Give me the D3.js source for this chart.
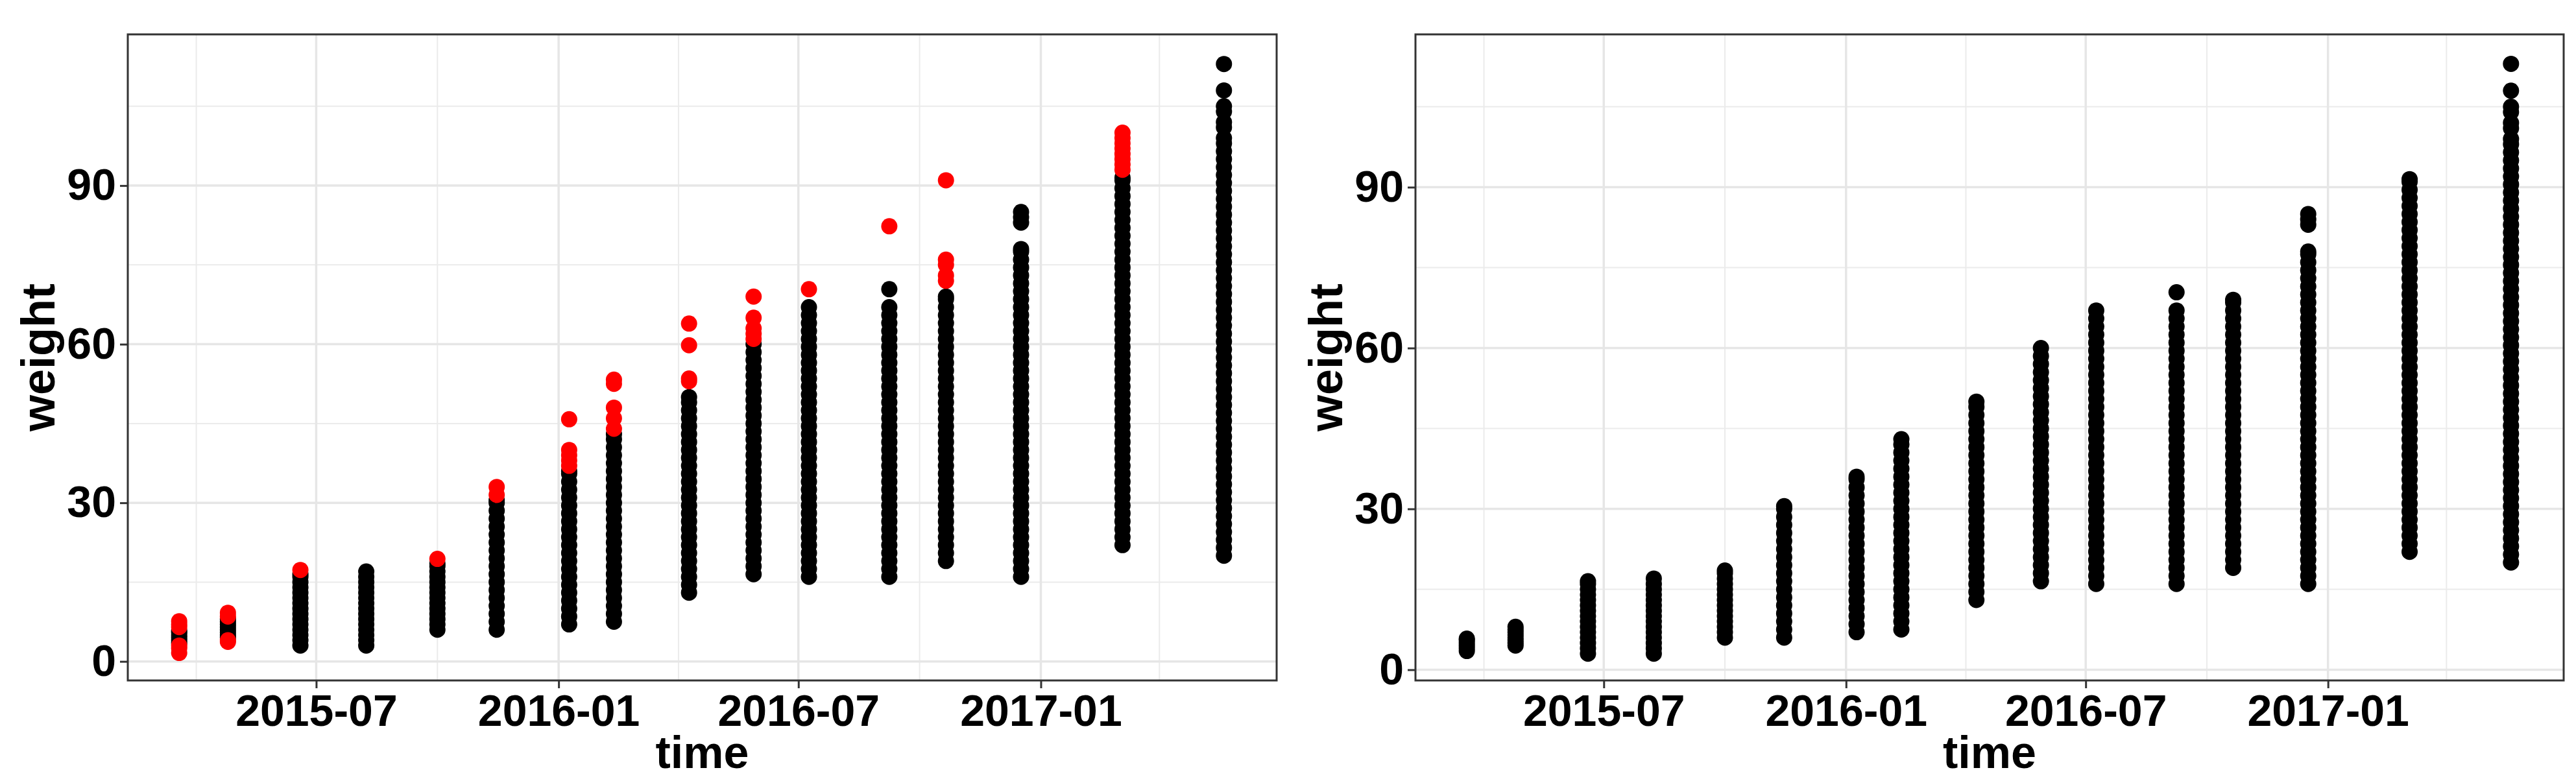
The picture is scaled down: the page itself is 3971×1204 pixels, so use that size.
<!DOCTYPE html>
<html><head><meta charset="utf-8">
<script src="https://cdn.jsdelivr.net/npm/d3@7"></script>
<style>body{margin:0;background:#fff}</style>
</head><body>
<svg id="c" width="3971" height="1204"></svg>
<script>
const dates = ["2015-03-19","2015-04-25","2015-06-19","2015-08-08","2015-10-01","2015-11-15","2016-01-09","2016-02-12","2016-04-09","2016-05-28","2016-07-09","2016-09-08","2016-10-21","2016-12-17","2017-03-04","2017-05-20"];
const blackVals = [
 [3.5,4,4.5,5,5.5,5.8],
 [4.5,5,5.5,6,6.5,7,7.5,8],
 [3,4,5,6,7,8,9,10,11,12,13,14,15,16,16.5],
 [3,4,5,6,7,8,9,10,11,12,13,14,15,16,17],
 [6,7,8,9,10,11,12,13,14,15,16,17,18,18.5],
 [6,7.5,9,10.5,12,13.5,15,16.5,18,19.5,21,22.5,24,25.5,27,28.5,30,30.5],
 [7,8.5,10,11.5,13,14.5,16,17.5,19,20.5,22,23.5,25,26.5,28,29.5,31,32.5,34,35.5,36],
 [7.5,9,10.5,12,13.5,15,16.5,18,19.5,21,22.5,24,25.5,27,28.5,30,31.5,33,34.5,36,37.5,39,40.5,42,43],
 [13,14.5,16,17.5,19,20.5,22,23.5,25,26.5,28,29.5,31,32.5,34,35.5,37,38.5,40,41.5,43,44.5,46,47.5,49,50],
 [16.5,18,19.5,21,22.5,24,25.5,27,28.5,30,31.5,33,34.5,36,37.5,39,40.5,42,43.5,45,46.5,48,49.5,51,52.5,54,55.5,57,58.5,60],
 [16,17.5,19,20.5,22,23.5,25,26.5,28,29.5,31,32.5,34,35.5,37,38.5,40,41.5,43,44.5,46,47.5,49,50.5,52,53.5,55,56.5,58,59.5,61,62.5,64,65.5,67],
 [16,17.5,19,20.5,22,23.5,25,26.5,28,29.5,31,32.5,34,35.5,37,38.5,40,41.5,43,44.5,46,47.5,49,50.5,52,53.5,55,56.5,58,59.5,61,62.5,64,65.5,67,70.4],
 [19,20.5,22,23.5,25,26.5,28,29.5,31,32.5,34,35.5,37,38.5,40,41.5,43,44.5,46,47.5,49,50.5,52,53.5,55,56.5,58,59.5,61,62.5,64,65.5,67,68.5,69],
 [16,17.5,19,20.5,22,23.5,25,26.5,28,29.5,31,32.5,34,35.5,37,38.5,40,41.5,43,44.5,46,47.5,49,50.5,52,53.5,55,56.5,58,59.5,61,62.5,64,65.5,67,68.5,70,71.5,73,74.5,76,77.5,78,83,84,85],
 [22,23.5,25,26.5,28,29.5,31,32.5,34,35.5,37,38.5,40,41.5,43,44.5,46,47.5,49,50.5,52,53.5,55,56.5,58,59.5,61,62.5,64,65.5,67,68.5,70,71.5,73,74.5,76,77.5,79,80.5,82,83.5,85,86.5,88,89.5,91,91.5],
 [20,21.5,23,24.5,26,27.5,29,30.5,32,33.5,35,36.5,38,39.5,41,42.5,44,45.5,47,48.5,50,51.5,53,54.5,56,57.5,59,60.5,62,63.5,65,66.5,68,69.5,71,72.5,74,75.5,77,78.5,80,81.5,83,84.5,86,87.5,89,90.5,92,93.5,95,96.5,98,99,101,102,104,105,108,113]
];
const redVals = [
 [1.6,2.5,3,6.5,7,7.6],
 [3.7,4,8.5,9.2],
 [17.3],
 [],
 [19.4],
 [31.5,33],
 [37,38,39,40,45.8],
 [44,46,48,52.5,53.3],
 [53,53.5,59.8,63.9],
 [61,62,63,65,69],
 [70.4],
 [82.3],
 [72,73,75,76,91],
 [],
 [93,94,95,96,97,98,99,100],
 []
];
const yTicks = [0,30,60,90];
const yMinor = [15,45,75,105];
const xTicks = ["2015-07-01","2016-01-01","2016-07-01","2017-01-01"];
const xMinor = ["2015-04-01","2015-10-01","2016-04-01","2016-10-01","2017-04-01"];

const parse = d3.timeParse("%Y-%m-%d");
const svg = d3.select("#c");
const FONT = "'Liberation Sans', Arial, sans-serif";

function panel(left, right, yDom, withRed){
  const top = 53, bottom = 1049;
  const x = d3.scaleTime().domain([parse("2015-02-08"), parse("2017-06-29")]).range([left, right]);
  const y = d3.scaleLinear().domain(yDom).range([bottom, top]);
  const g = svg.append("g");
  g.selectAll(".ym").data(yMinor).join("line").attr("x1",left).attr("x2",right)
    .attr("y1",d=>y(d)).attr("y2",d=>y(d)).attr("stroke","#ebebeb").attr("stroke-width",2);
  g.selectAll(".xm").data(xMinor).join("line").attr("y1",top).attr("y2",bottom)
    .attr("x1",d=>x(parse(d))).attr("x2",d=>x(parse(d))).attr("stroke","#ebebeb").attr("stroke-width",2);
  g.selectAll(".yM").data(yTicks).join("line").attr("x1",left).attr("x2",right)
    .attr("y1",d=>y(d)).attr("y2",d=>y(d)).attr("stroke","#e6e6e6").attr("stroke-width",3.5);
  g.selectAll(".xM").data(xTicks).join("line").attr("y1",top).attr("y2",bottom)
    .attr("x1",d=>x(parse(d))).attr("x2",d=>x(parse(d))).attr("stroke","#e6e6e6").attr("stroke-width",3.5);
  const pts = [];
  dates.forEach((d,i)=>{
    blackVals[i].forEach(v=>pts.push({d,v,c:"#000"}));
    if(withRed) redVals[i].forEach(v=>pts.push({d,v,c:"#ff0000"}));
  });
  g.selectAll("circle").data(pts).join("circle")
    .attr("cx",p=>x(parse(p.d))).attr("cy",p=>y(p.v)).attr("r",12.5).attr("fill",p=>p.c);
  g.append("rect").attr("x",left).attr("y",top).attr("width",right-left).attr("height",bottom-top)
    .attr("fill","none").attr("stroke","#333").attr("stroke-width",3);
  const xa = g.append("g").attr("transform",`translate(0,${bottom})`)
    .call(d3.axisBottom(x).tickValues(xTicks.map(parse)).tickFormat(d3.timeFormat("%Y-%m")).tickSize(12).tickPadding(10));
  const ya = g.append("g").attr("transform",`translate(${left},0)`)
    .call(d3.axisLeft(y).tickValues(yTicks).tickSize(12).tickPadding(6));
  [xa,ya].forEach(a=>{
    a.select(".domain").remove();
    a.selectAll(".tick line").attr("stroke","#333").attr("stroke-width",3);
    a.selectAll("text").attr("font-family",FONT).attr("font-weight","bold").attr("font-size",68).attr("fill","#000");
  });
  xa.selectAll("text").attr("dy","0.71em");
  g.append("text").attr("x",(left+right)/2).attr("y",1184).attr("text-anchor","middle")
    .attr("font-family",FONT).attr("font-weight","bold").attr("font-size",70).text("time");
  g.append("text").attr("transform",`translate(${left-138},${(top+bottom)/2}) rotate(-90)`)
    .attr("text-anchor","middle").attr("dy","0.35em")
    .attr("font-family",FONT).attr("font-weight","bold").attr("font-size",72).text("weight");
}
panel(197, 1968, [-3.6,118.6], true);
panel(2182, 3952, [-2.0,118.5], false);
</script>
</body></html>
